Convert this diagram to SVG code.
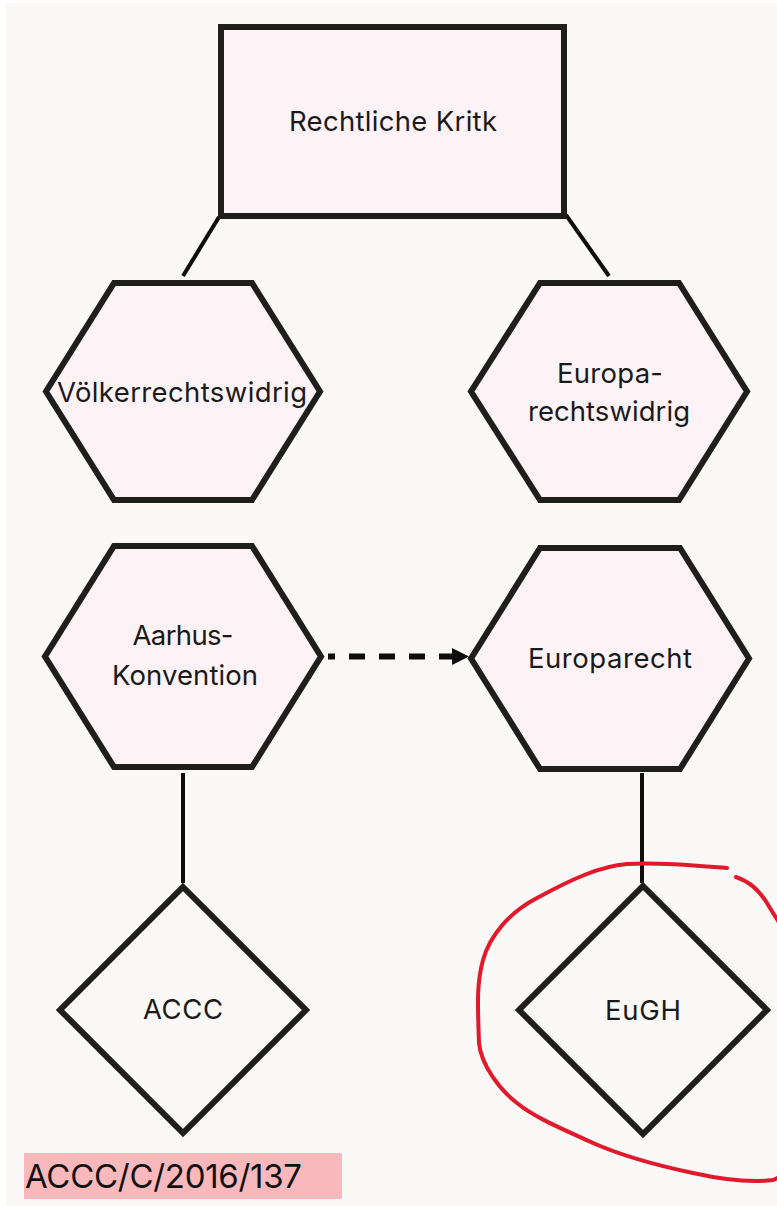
<svg xmlns="http://www.w3.org/2000/svg" width="777" height="1206" viewBox="0 0 777 1206">
<defs>
<style>
.bg{fill:#faf9f7}
.node{fill:#fdf3f6;stroke:#1e1f1d;stroke-width:6;stroke-linejoin:miter}
.dia{fill:#faf9f7;stroke:#1e1f1d;stroke-width:6;stroke-linejoin:miter}
.lbl{font-family:Inter,"Liberation Sans",sans-serif;font-size:27.5px;fill:#1a1a1a;text-anchor:middle}
.con{stroke:#0d0d0d;stroke-width:4;fill:none}
.red{fill:none;stroke:#e3192b;stroke-width:4;stroke-linecap:round;stroke-linejoin:round}
</style>
</defs>
<rect x="0" y="0" width="777" height="1206" fill="#ffffff"/>
<rect class="bg" x="6" y="3" width="771" height="1203"/>
<g id="connectors">
<line class="con" x1="219" y1="217" x2="183" y2="276"/>
<line class="con" x1="566" y1="215" x2="609" y2="276"/>
<line class="con" x1="183" y1="773" x2="183" y2="883"/>
<line class="con" x1="642" y1="773" x2="642" y2="883"/>
<line x1="328" y1="656.5" x2="455" y2="656.5" stroke="#0d0d0d" stroke-width="6" stroke-dasharray="16 14" stroke-dashoffset="9"/>
<polygon points="452,648 469,656.5 452,665" fill="#0d0d0d"/>
</g>
<g id="n-root">
<rect class="node" x="221" y="27" width="343" height="189"/>
<text class="lbl" x="393" y="131" textLength="208" lengthAdjust="spacing">Rechtliche Kritk</text>
</g>
<g id="n-voelker">
<polygon class="node" points="114,283 252,283 320,391.5 252,500 114,500 46,391.5"/>
<text class="lbl" x="182" y="402" textLength="250" lengthAdjust="spacing">Völkerrechtswidrig</text>
</g>
<g id="n-europarw">
<polygon class="node" points="540,283 679,283 747,391.5 679,500 540,500 471,391.5"/>
<text class="lbl" x="610" y="383" textLength="106" lengthAdjust="spacing">Europa-</text>
<text class="lbl" x="609" y="421" textLength="162" lengthAdjust="spacing">rechtswidrig</text>
</g>
<g id="n-aarhus">
<polygon class="node" points="114,546 252,546 321,656.5 252,767 114,767 45,656.5"/>
<text class="lbl" x="183" y="645" textLength="101" lengthAdjust="spacing">Aarhus-</text>
<text class="lbl" x="185" y="685" textLength="146" lengthAdjust="spacing">Konvention</text>
</g>
<g id="n-europarecht">
<polygon class="node" points="540,548 680,548 749,658.5 680,769 540,769 471,658.5"/>
<text class="lbl" x="610" y="668" textLength="164" lengthAdjust="spacing">Europarecht</text>
</g>
<g id="n-accc">
<polygon class="dia" points="183,887 306,1010 183,1133 60,1010"/>
<text class="lbl" x="183" y="1019" textLength="80" lengthAdjust="spacing">ACCC</text>
</g>
<g id="n-eugh">
<polygon class="dia" points="643,886 767,1010 643,1134 519,1010"/>
<text class="lbl" x="643" y="1020" textLength="76" lengthAdjust="spacing">EuGH</text>
</g>
<g id="annotation">
<path class="red" d="M727,868 C700,866 660,862 627,864 C600,866 570,880 537,898 C510,912 490,935 483,960 C476,985 478,1010 479,1043 C481,1065 500,1090 517,1103 C535,1118 565,1130 593,1143 C620,1155 655,1165 693,1173 C720,1179 750,1183 773,1180 C776,1179 777,1178 780,1177"/>
<path class="red" d="M736,877 C748,881 758,888 767,903 C771,910 775,916 780,924"/>
</g>
<g id="tag">
<rect x="24" y="1153" width="318" height="46" fill="#f8b8bc"/>
<text x="25" y="1188" font-family="Inter,'Liberation Sans',sans-serif" font-size="33" fill="#111111" textLength="277" lengthAdjust="spacing">ACCC/C/2016/137</text>
</g>
</svg>
